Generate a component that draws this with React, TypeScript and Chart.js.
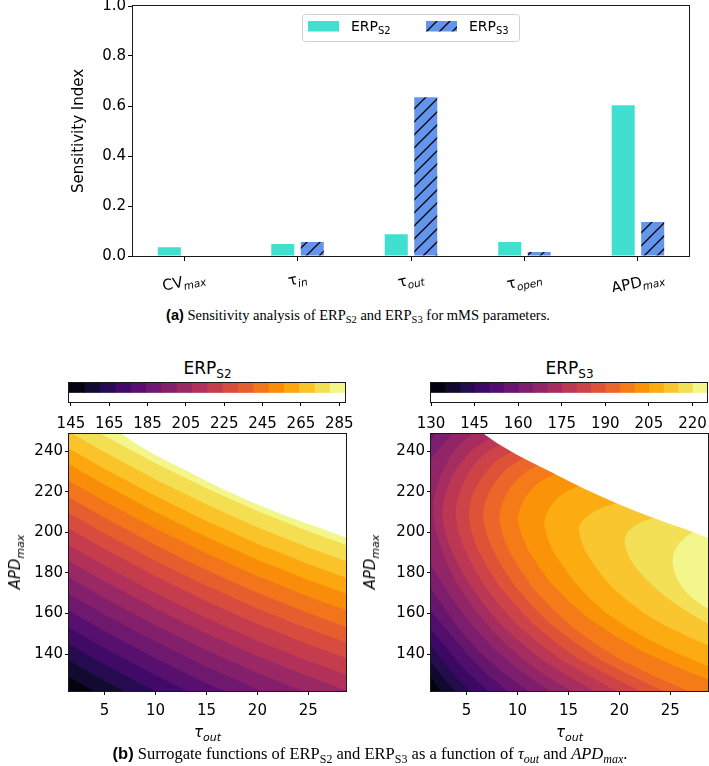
import React, { useEffect, useRef } from "react";
import { Chart, registerables } from "chart.js";

Chart.register(...registerables);
Chart.defaults.font.family = '"DejaVu Sans", sans-serif';
Chart.defaults.color = "#000";

// ---------------- (a) Sensitivity indices ----------------
const paramNames = ["CV", "τ", "τ", "τ", "APD"];
const paramSubs = ["max", "in", "out", "open", "max"];
const sensS2 = [0.035, 0.048, 0.087, 0.056, 0.603];
const sensS3 = [0.002, 0.056, 0.635, 0.016, 0.136];
const sensTicks = [0, 0.2, 0.4, 0.6, 0.8, 1.0];
const seriesNames = ["ERP", "ERP"];
const seriesSubs = ["S2", "S3"];

// ---------------- (b) Surrogate functions ----------------
const tauRange = [1.5, 28.7];
const apdRange = [121.8, 248.4];
const tauTicks = [5, 10, 15, 20, 25];
const apdTicks = [140, 160, 180, 200, 220, 240];
const levelsS2 = [144, 152, 160, 168, 176, 184, 192, 200, 208, 216, 224, 232, 240, 248, 256, 264, 272, 280, 288];
const levelsS3 = [130, 135, 140, 145, 150, 155, 160, 165, 170, 175, 180, 185, 190, 195, 200, 205, 210, 215, 220, 225];
const cbTicksS2 = [145, 165, 185, 205, 225, 245, 265, 285];
const cbTicksS3 = [130, 145, 160, 175, 190, 205, 220];

// edge of the computed (feasible) region, [tau_out, APD_max]
const feasibleEdge = [[6.7, 248.4], [8, 243.9], [9.97, 238.0], [11.5, 234.1], [13.24, 229.8], [15, 225.3], [16.5, 221.6], [18, 218.1], [19.77, 214.2], [21.5, 210.6], [23.04, 207.6], [24.7, 204.6], [26.3, 201.9], [28.7, 197.3]];

// ERP_S2 level curves [tau_out, APD_max]
const s2c152 = [[1.5, 128.7], [3.9, 121.8]];
const s2c160 = [[1.5, 136.8], [5, 126.7], [6.85, 121.8]];
const s2c168 = [[1.5, 144.9], [5, 134.8], [9.85, 121.8]];
const s2c176 = [[1.5, 153.0], [5, 142.9], [10, 129.5], [13.1, 121.8]];
const s2c184 = [[1.5, 161.3], [5, 151.2], [10, 137.8], [15, 125.5], [16.65, 121.8]];
const s2c192 = [[1.5, 169.5], [5, 159.4], [10, 146.0], [15, 133.7], [20.35, 121.8]];
const s2c200 = [[1.5, 177.7], [5, 167.6], [10, 154.2], [15, 141.9], [20, 130.7], [24.45, 121.8]];
const s2c208 = [[1.5, 185.9], [5, 175.8], [10, 162.4], [15, 150.1], [20, 138.9], [25, 128.9], [28.7, 122.2]];
const s2c216 = [[1.5, 193.6], [5, 183.5], [10, 170.1], [15, 157.8], [20, 146.6], [25, 136.6], [28.7, 129.9]];
const s2c224 = [[1.5, 201.8], [5, 191.7], [10, 178.3], [15, 166.0], [20, 154.8], [25, 144.8], [28.7, 138.1]];
const s2c232 = [[1.5, 209.5], [5, 199.4], [10, 186.0], [15, 173.7], [20, 162.5], [25, 152.5], [28.7, 145.8]];
const s2c240 = [[1.5, 217.2], [5, 207.1], [10, 193.7], [15, 181.4], [20, 170.2], [25, 160.2], [28.7, 153.5]];
const s2c248 = [[1.5, 225.4], [5, 215.3], [10, 201.9], [15, 189.6], [20, 178.4], [25, 168.4], [28.7, 161.7]];
const s2c256 = [[1.5, 233.5], [5, 223.4], [10, 210.0], [15, 197.7], [20, 186.5], [25, 176.5], [28.7, 169.8]];
const s2c264 = [[1.5, 241.3], [5, 231.2], [10, 217.8], [15, 205.5], [20, 194.3], [25, 184.3], [28.7, 177.6]];
const s2c272 = [[1.88, 248.4], [5, 239.4], [10, 226.0], [15, 213.7], [20, 202.5], [25, 192.5], [28.7, 185.8]];
const s2c280 = [[4.65, 248.4], [5, 247.4], [10, 234.0], [15, 221.7], [20, 210.5], [25, 200.5], [28.7, 193.8]];

// ERP_S3 level curves [tau_out, APD_max]
const s3c135 = [[2.5, 121.8], [1.9, 125.5], [1.5, 129]];
const s3c140 = [[3.9, 121.8], [3.0, 126.5], [2.2, 131.5], [1.5, 136]];
const s3c145 = [[5.4, 121.8], [4.1, 128], [3.0, 134.5], [2.1, 140], [1.5, 144]];
const s3c150 = [[7.1, 121.8], [5.4, 129.5], [3.9, 137.5], [2.6, 145.5], [1.5, 152]];
const s3c155 = [[9.0, 121.8], [7.0, 130], [5.2, 139], [3.7, 148], [2.5, 155], [1.5, 161]];
const s3c160 = [[11.0, 121.8], [8.5, 131], [6.3, 141], [4.4, 151.5], [2.9, 162], [1.5, 172], [1.5, 245], [1.9, 248.4]];
const s3c165 = [[13.1, 121.8], [10.2, 132], [7.6, 143], [5.4, 155], [3.6, 167], [2.3, 177], [1.5, 184], [1.5, 236], [2.4, 242], [3.6, 248.4]];
const s3c170 = [[15.3, 121.8], [12.7, 129.5], [10.5, 137.6], [8.6, 146.2], [6.9, 155.1], [5.4, 164.6], [4.1, 174.4], [3.1, 184], [2.4, 193.7], [1.9, 202], [1.7, 209.5], [1.75, 215.5], [2.0, 221.2], [2.4, 227.2], [2.9, 232.8], [3.4, 237.6], [4.0, 241.8], [4.8, 245.4], [5.6, 248.4]];
const s3c175 = [[17.5, 121.8], [14.8, 129.5], [12.3, 137.5], [10.2, 146.1], [8.3, 154.9], [6.7, 164.4], [5.3, 174.1], [4.2, 183.8], [3.3, 193.3], [2.8, 201.5], [2.6, 209], [2.7, 214.8], [3.0, 220.2], [3.4, 226], [4.0, 231.4], [4.7, 236], [5.4, 240.0], [6.3, 243.4], [7.3, 246.4]];
const s3c180 = [[19.7, 121.8], [16.9, 129.5], [14.2, 137.4], [11.9, 146], [9.9, 154.7], [8.2, 164.2], [6.7, 173.8], [5.6, 183.5], [4.7, 192.9], [4.15, 201], [3.9, 208.5], [4.0, 214], [4.25, 219], [4.7, 224.4], [5.2, 229.4], [5.8, 233.7], [6.5, 237.5], [7.3, 240.6], [8.3, 243.0]];
const s3c185 = [[22.0, 121.8], [19.0, 129.5], [16.1, 137.3], [13.7, 145.9], [11.6, 154.6], [9.8, 164], [8.2, 173.5], [7.0, 183], [6.0, 192.5], [5.45, 200.5], [5.2, 208], [5.3, 212.8], [5.5, 217.5], [5.95, 222.4], [6.5, 227], [7.1, 230.9], [7.7, 234.3], [8.5, 237.2], [9.4, 239.7]];
const s3c190 = [[24.3, 121.8], [21.1, 129.4], [18.1, 137.2], [15.6, 145.8], [13.3, 154.4], [11.4, 163.8], [9.8, 173.2], [8.5, 182.7], [7.5, 192.1], [6.9, 200], [6.6, 207.5], [6.7, 212], [6.9, 216.2], [7.3, 220.6], [7.8, 224.8], [8.4, 228.4], [9.0, 231.5], [9.8, 234.2], [10.6, 236.4]];
const s3c195 = [[26.7, 121.8], [23.3, 129.3], [20.2, 137.0], [17.5, 145.5], [15.2, 154.0], [13.2, 163.3], [11.5, 172.6], [10.2, 182], [9.1, 191.3], [8.5, 199], [8.2, 206.5], [8.3, 210.5], [8.5, 214.4], [8.85, 218.4], [9.3, 222.3], [9.9, 225.6], [10.5, 228.4], [11.2, 230.9], [12.0, 232.9]];
const s3c200 = [[28.7, 127.5], [25.3, 134.3], [22.2, 141.5], [19.5, 149.1], [17.1, 157.1], [15.1, 165.6], [13.4, 174.3], [12.1, 182.9], [11.0, 191.5], [10.4, 198.8], [10.0, 205.5], [10.1, 209.1], [10.3, 212.5], [10.65, 216.1], [11.1, 219.4], [11.6, 222.3], [12.2, 224.8], [12.9, 226.9], [13.7, 228.7]];
const s3c205 = [[28.7, 134], [25.8, 140.1], [23.1, 146.6], [20.7, 153.5], [18.6, 160.6], [16.9, 168.2], [15.5, 176.0], [14.4, 183.7], [13.4, 191.4], [12.9, 197.8], [12.6, 204], [12.7, 206.9], [12.9, 209.6], [13.2, 212.6], [13.6, 215.3], [14.1, 217.6], [14.6, 219.6], [15.3, 221.3], [16.0, 222.8]];
const s3c210 = [[28.7, 144.3], [26.5, 149.2], [24.3, 154.6], [22.4, 160.2], [20.8, 166.2], [19.4, 172.3], [18.3, 178.6], [17.4, 184.8], [16.6, 191.2], [16.2, 196.5], [16.0, 201.5], [16.1, 203.5], [16.4, 205.8], [16.9, 208.3], [17.6, 210.5], [18.5, 212.5], [19.7, 214.3]];
const s3c215 = [[28.7, 155], [27.2, 159.2], [25.8, 163.8], [24.5, 168.5], [23.4, 173.2], [22.5, 177.5], [21.7, 182], [21.1, 186.5], [20.7, 190.8], [20.5, 195], [20.55, 197.5], [20.8, 200], [21.3, 202.4], [21.9, 204.3], [22.6, 205.8], [23.4, 206.9]];
const s3c220 = [[28.7, 162.3], [27.9, 164.8], [27.1, 167.8], [26.4, 171.3], [25.9, 175], [25.5, 179], [25.3, 182.5], [25.2, 185.3], [25.25, 188], [25.45, 191], [25.8, 194], [26.3, 196.8], [26.8, 198.7], [27.3, 200.2]];

const s2Curves = [s2c152, s2c160, s2c168, s2c176, s2c184, s2c192, s2c200, s2c208, s2c216, s2c224, s2c232, s2c240, s2c248, s2c256, s2c264, s2c272, s2c280];
const s3Curves = [s3c135, s3c140, s3c145, s3c150, s3c155, s3c160, s3c165, s3c170, s3c175, s3c180, s3c185, s3c190, s3c195, s3c200, s3c205, s3c210, s3c215, s3c220];

// ---------------- colour map (inferno) ----------------
const INFERNO = ["000004", "040312", "0b0724", "150b37", "210c4a", "2f0a5b", "3d0965", "4a0c6b", "57106e", "64156e", "71196e", "7d1e6d", "8a226a", "972766", "a32c61", "b0315b", "bc3754", "c73e4c", "d24644", "db503b", "e45a31", "eb6628", "f1731d", "f68013", "f98e09", "fb9d07", "fcac11", "fbbc21", "f9cb35", "f5db4c", "f2ea69", "f3f68a", "fcffa4"];
function inferno(t: number): string {
  const idx = Math.max(0, Math.min(255, t * 255));
  const i = Math.min(31, Math.floor(idx / 8));
  const span = i === 31 ? 7 : 8;
  const f = (idx - i * 8) / span;
  const a = INFERNO[i], b = INFERNO[i + 1];
  const c = [0, 2, 4].map((o) => {
    const va = parseInt(a.slice(o, o + 2), 16), vb = parseInt(b.slice(o, o + 2), 16);
    return Math.round(va + (vb - va) * f);
  });
  return `rgb(${c[0]},${c[1]},${c[2]})`;
}
const bandColor = (k: number, n: number) => inferno((k + 0.5) / n);

// ---------------- geometry helpers ----------------
const X0 = tauRange[0], X1 = tauRange[1], Y0 = apdRange[0], Y1 = apdRange[1];
function perim(p: number[]): number | null {
  const [x, y] = p; const e = 1e-6;
  if (Math.abs(y - Y0) < e) return (x - X0) / (X1 - X0);
  if (Math.abs(x - X1) < e) return 1 + (y - Y0) / (Y1 - Y0);
  if (Math.abs(y - Y1) < e) return 2 + (X1 - x) / (X1 - X0);
  if (Math.abs(x - X0) < e) return 3 + (Y1 - y) / (Y1 - Y0);
  return null;
}
// region on the right-hand side of a curve, closed along the plot frame
function rightSide(curve: number[][]): number[][] {
  const pts = curve.map((p) => [p[0], p[1]]);
  const last = pts[pts.length - 1];
  if (perim(last) === null) pts.push([last[0], Y1]);
  const corners = [[X0, Y0], [X1, Y0], [X1, Y1], [X0, Y1]];
  const a = perim(pts[pts.length - 1]) as number;
  let b = perim(pts[0]) as number;
  if (b >= a) b -= 4;
  for (let c = Math.ceil(a) - 1; c > b; c--) pts.push(corners[((c % 4) + 4) % 4]);
  return pts;
}
const fullFrame = () => [[X0, Y0], [X1, Y0], [X1, Y1], [X0, Y1]];

function polyDataset(pts: number[][], color: string, order: number) {
  return {
    data: pts.map(([x, y]) => ({ x, y })),
    showLine: true, fill: "shape", backgroundColor: color, borderColor: color,
    borderWidth: 0, pointRadius: 0, pointHoverRadius: 0, tension: 0, order,
  };
}

function s2Datasets() {
  const n = levelsS2.length - 1;
  const polys: any[] = [[fullFrame(), bandColor(n - 1, n)]];
  for (let k = s2Curves.length; k >= 1; k--) polys.push([rightSide(s2Curves[k - 1]), bandColor(k - 1, n)]);
  polys.push([rightSide(feasibleEdge.slice().reverse()), "#ffffff"]);
  return polys.map(([p, c], i) => polyDataset(p, c, 1000 - i));
}
function s3Datasets() {
  const n = levelsS3.length - 1;
  const polys: any[] = [[fullFrame(), bandColor(0, n)]];
  for (let k = 1; k <= s3Curves.length; k++) polys.push([rightSide(s3Curves[k - 1]), bandColor(k, n)]);
  polys.push([rightSide(feasibleEdge.slice().reverse()), "#ffffff"]);
  return polys.map(([p, c], i) => polyDataset(p, c, 1000 - i));
}

// ---------------- plugins ----------------
const framePlugin = {
  id: "frame",
  afterDatasetsDraw(chart: any) {
    const { ctx, chartArea: { left, top, right, bottom } } = chart;
    ctx.save();
    ctx.strokeStyle = "#1a1a1a";
    ctx.lineWidth = 1;
    ctx.strokeRect(Math.round(left) - 0.5, Math.round(top) - 0.5, Math.round(right - left) + 1, Math.round(bottom - top) + 1);
    ctx.restore();
  },
};

const xLabelPlugin = {
  id: "paramLabels",
  afterDraw(chart: any) {
    const { ctx, scales: { x }, chartArea } = chart;
    const theta = (12 * Math.PI) / 180;
    paramNames.forEach((name, i) => {
      const px = x.getPixelForValue(i);
      ctx.save();
      ctx.font = '15px "DejaVu Sans"';
      const w1 = ctx.measureText(name).width;
      ctx.font = 'italic 10.5px "DejaVu Sans"';
      const w2 = ctx.measureText(paramSubs[i]).width;
      const w = w1 + w2;
      const h = 14;
      const bh = w * Math.sin(theta) + h * Math.cos(theta);
      const cy = chartArea.bottom + 15 + bh / 2;
      ctx.translate(px, cy);
      ctx.rotate(-theta);
      ctx.fillStyle = "#000";
      ctx.textAlign = "left";
      ctx.textBaseline = "alphabetic";
      ctx.font = '15px "DejaVu Sans"';
      ctx.fillText(name, -w / 2, 4);
      ctx.font = 'italic 10.5px "DejaVu Sans"';
      ctx.fillText(paramSubs[i], -w / 2 + w1, 7.5);
      ctx.restore();
    });
  },
};

const legendPlugin = {
  id: "legendBox",
  afterDraw(chart: any) {
    const { ctx, chartArea } = chart;
    const x0 = Math.round(chartArea.left + 169) + 0.5;
    const y0 = Math.round(chartArea.top + 8) + 0.5;
    ctx.save();
    ctx.beginPath();
    ctx.roundRect(x0, y0, 217, 27, 3);
    ctx.fillStyle = "rgba(255,255,255,0.8)";
    ctx.fill();
    ctx.strokeStyle = "#d0d0d0";
    ctx.lineWidth = 1;
    ctx.stroke();
    chart.data.datasets.forEach((ds: any, i: number) => {
      const sx = x0 + 5.5 + i * 118;
      ctx.fillStyle = ds.backgroundColor;
      ctx.fillRect(sx, y0 + 6.5, 31, 10.5);
      ctx.fillStyle = "#000";
      ctx.textBaseline = "alphabetic";
      ctx.font = '14px "DejaVu Sans"';
      const tx = sx + 43;
      ctx.fillText(seriesNames[i], tx, y0 + 16.5);
      const tw = ctx.measureText(seriesNames[i]).width;
      ctx.font = '10px "DejaVu Sans"';
      ctx.fillText(seriesSubs[i], tx + tw, y0 + 19.5);
    });
    ctx.restore();
  },
};

function makeHatch(): any {
  const s = 13;
  const c = document.createElement("canvas");
  c.width = s; c.height = s;
  const g = c.getContext("2d") as CanvasRenderingContext2D;
  g.fillStyle = "#6495ED";
  g.fillRect(0, 0, s, s);
  g.strokeStyle = "#000";
  g.lineWidth = 1.3;
  g.beginPath();
  g.moveTo(0, s); g.lineTo(s, 0);
  g.moveTo(-s / 2, s / 2); g.lineTo(s / 2, -s / 2);
  g.moveTo(s / 2, s * 1.5); g.lineTo(s * 1.5, s / 2);
  g.stroke();
  return g.createPattern(c, "repeat");
}

const tickFont = { family: '"DejaVu Sans"', size: 15 };
const tickGrid = { drawOnChartArea: false, tickLength: 4, color: "#000", offset: false };

function contourConfig(datasets: any[], padding: any) {
  return {
    type: "scatter",
    data: { datasets },
    options: {
      responsive: false, animation: false, devicePixelRatio: 1, events: [],
      layout: { padding },
      plugins: { legend: { display: false }, tooltip: { enabled: false } },
      scales: {
        x: {
          type: "linear", min: tauRange[0], max: tauRange[1],
          afterBuildTicks: (s: any) => { s.ticks = tauTicks.map((v) => ({ value: v })); },
          afterFit: (s: any) => { s.height = 28; s.paddingLeft = 0; s.paddingRight = 0; },
          grid: tickGrid, border: { display: false },
          ticks: { font: tickFont, color: "#000", padding: 7, maxRotation: 0, autoSkip: false },
        },
        y: {
          type: "linear", min: apdRange[0], max: apdRange[1],
          afterBuildTicks: (s: any) => { s.ticks = apdTicks.map((v) => ({ value: v })); },
          afterFit: (s: any) => { s.width = 45; s.paddingTop = 0; s.paddingBottom = 0; },
          grid: tickGrid, border: { display: false },
          ticks: { font: tickFont, color: "#000", padding: 2, autoSkip: false },
        },
      },
    },
    plugins: [framePlugin],
  };
}

function colorbarConfig(levels: number[], ticks: number[], padding: any) {
  const n = levels.length - 1;
  const datasets = levels.slice(0, n).map((lo, k) => ({
    data: [[lo, levels[k + 1]]], backgroundColor: bandColor(k, n), borderWidth: 0,
    barPercentage: 1, categoryPercentage: 1, grouped: false,
  }));
  return {
    type: "bar",
    data: { labels: ["cb"], datasets },
    options: {
      indexAxis: "y", responsive: false, animation: false, devicePixelRatio: 1, events: [],
      layout: { padding },
      plugins: { legend: { display: false }, tooltip: { enabled: false } },
      scales: {
        x: {
          type: "linear", min: levels[0], max: levels[n],
          afterBuildTicks: (s: any) => { s.ticks = ticks.map((v) => ({ value: v })); },
          afterFit: (s: any) => { s.height = 30; s.paddingLeft = 0; s.paddingRight = 0; },
          grid: tickGrid, border: { display: false },
          ticks: { font: tickFont, color: "#000", padding: 9, maxRotation: 0, autoSkip: false },
        },
        y: { display: false, offset: false, grid: { offset: false } },
      },
    },
    plugins: [framePlugin],
  };
}

const Sub = ({ children, size, italic }: any) => (
  <span style={{ fontSize: size, position: "relative", top: "0.32em", fontStyle: italic ? "italic" : "normal" }}>{children}</span>
);

export default function App() {
  const barRef = useRef<HTMLCanvasElement>(null);
  const cb2Ref = useRef<HTMLCanvasElement>(null);
  const cb3Ref = useRef<HTMLCanvasElement>(null);
  const c2Ref = useRef<HTMLCanvasElement>(null);
  const c3Ref = useRef<HTMLCanvasElement>(null);

  useEffect(() => {
    const hatch = makeHatch();
    const charts: any[] = [];
    charts.push(new Chart(barRef.current as any, {
      type: "bar",
      data: {
        datasets: [
          { label: "ERP_S2", data: sensS2.map((v, i) => ({ x: i, y: v })), backgroundColor: "#40E0D0", borderWidth: 0, categoryPercentage: 0.52, barPercentage: 0.78 },
          { label: "ERP_S3", data: sensS3.map((v, i) => ({ x: i, y: v })), backgroundColor: hatch, borderWidth: 0, categoryPercentage: 0.52, barPercentage: 0.78 },
        ],
      },
      options: {
        responsive: false, animation: false, devicePixelRatio: 1, events: [],
        layout: { padding: { left: 0, right: 20, top: 16, bottom: 16 } },
        plugins: { legend: { display: false }, tooltip: { enabled: false } },
        scales: {
          x: {
            type: "linear", min: -0.45, max: 4.45, offset: false,
            afterBuildTicks: (s: any) => { s.ticks = paramNames.map((_, i) => ({ value: i })); },
            afterFit: (s: any) => { s.height = 20; s.paddingLeft = 0; s.paddingRight = 0; },
            ticks: { display: false },
            grid: { drawOnChartArea: false, tickLength: 5, color: "#000", offset: false },
            border: { display: false },
          },
          y: {
            type: "linear", min: 0, max: 1,
            afterBuildTicks: (s: any) => { s.ticks = sensTicks.map((v) => ({ value: v })); },
            afterFit: (s: any) => { s.width = 133; s.paddingTop = 0; s.paddingBottom = 0; },
            ticks: { callback: (v: any) => Number(v).toFixed(1), font: tickFont, color: "#000", padding: 2 },
            grid: { drawOnChartArea: false, tickLength: 5, color: "#000" },
            border: { display: false },
            title: { display: true, text: "Sensitivity Index", font: tickFont, color: "#000", padding: { top: 70, bottom: 0 } },
          },
        },
      },
      plugins: [framePlugin, xLabelPlugin, legendPlugin],
    } as any));

    charts.push(new Chart(cb2Ref.current as any, colorbarConfig(levelsS2, cbTicksS2, { left: 39, right: 35, top: 5, bottom: 4 }) as any));
    charts.push(new Chart(cb3Ref.current as any, colorbarConfig(levelsS3, cbTicksS3, { left: 39, right: 2, top: 5, bottom: 4 }) as any));
    charts.push(new Chart(c2Ref.current as any, contourConfig(s2Datasets(), { left: 24, right: 14, top: 6, bottom: 9 }) as any));
    charts.push(new Chart(c3Ref.current as any, contourConfig(s3Datasets(), { left: 6, right: 1, top: 6, bottom: 9 }) as any));
    return () => charts.forEach((c) => c.destroy());
  }, []);

  const abs = (l: number, t: number, w: number, h: number): any => ({ position: "absolute", left: l, top: t, width: w, height: h });

  return (
    <div style={{ position: "absolute", left: 0, top: 0, width: 709, height: 766, background: "#fff", overflow: "hidden", fontFamily: '"DejaVu Sans", sans-serif', color: "#000" }}>
      <canvas ref={barRef} width={709} height={302} style={abs(0, -10, 709, 302)} />

      <div style={{ position: "absolute", left: 0, width: 716, top: 306, textAlign: "center", fontFamily: '"Liberation Serif", serif', fontSize: 14.5, lineHeight: "18px", whiteSpace: "nowrap" }}>
        <b style={{ fontFamily: '"Liberation Sans", sans-serif' }}>(a)</b> Sensitivity analysis of ERP<Sub size={10.5}>S2</Sub> and ERP<Sub size={10.5}>S3</Sub> for mMS parameters.
      </div>

      <div style={{ position: "absolute", left: 69, width: 277, top: 358, textAlign: "center", fontSize: 17, lineHeight: "20px" }}>
        ERP<Sub size={12}>S2</Sub>
      </div>
      <div style={{ position: "absolute", left: 431, width: 277, top: 358, textAlign: "center", fontSize: 17, lineHeight: "20px" }}>
        ERP<Sub size={12}>S3</Sub>
      </div>

      <canvas ref={cb2Ref} width={350} height={58} style={abs(30, 378, 350, 58)} />
      <canvas ref={cb3Ref} width={317} height={58} style={abs(392, 378, 317, 58)} />

      <canvas ref={c2Ref} width={360} height={300} style={abs(0, 428, 360, 300)} />
      <canvas ref={c3Ref} width={329} height={300} style={abs(380, 428, 329, 300)} />

      <div style={{ position: "absolute", left: 69, width: 277, top: 723, textAlign: "center", fontSize: 15, lineHeight: "18px" }}>
        <i>τ</i><Sub size={11} italic>out</Sub>
      </div>
      <div style={{ position: "absolute", left: 431, width: 277, top: 723, textAlign: "center", fontSize: 15, lineHeight: "18px" }}>
        <i>τ</i><Sub size={11} italic>out</Sub>
      </div>

      <div style={{ position: "absolute", left: 16, top: 562, transform: "translate(-50%,-50%) rotate(-90deg)", whiteSpace: "nowrap", fontSize: 15, lineHeight: "18px" }}>
        <i>APD</i><Sub size={11} italic>max</Sub>
      </div>
      <div style={{ position: "absolute", left: 371, top: 562, transform: "translate(-50%,-50%) rotate(-90deg)", whiteSpace: "nowrap", fontSize: 15, lineHeight: "18px" }}>
        <i>APD</i><Sub size={11} italic>max</Sub>
      </div>

      <div style={{ position: "absolute", left: 0, width: 740, top: 743, textAlign: "center", fontFamily: '"Liberation Serif", serif', fontSize: 16.5, lineHeight: "20px", whiteSpace: "nowrap" }}>
        <b style={{ fontFamily: '"Liberation Sans", sans-serif' }}>(b)</b> Surrogate functions of ERP<Sub size={12}>S2</Sub> and ERP<Sub size={12}>S3</Sub> as a function of <i>τ</i><Sub size={12} italic>out</Sub> and <i>APD</i><Sub size={12} italic>max</Sub>.
      </div>
    </div>
  );
}
